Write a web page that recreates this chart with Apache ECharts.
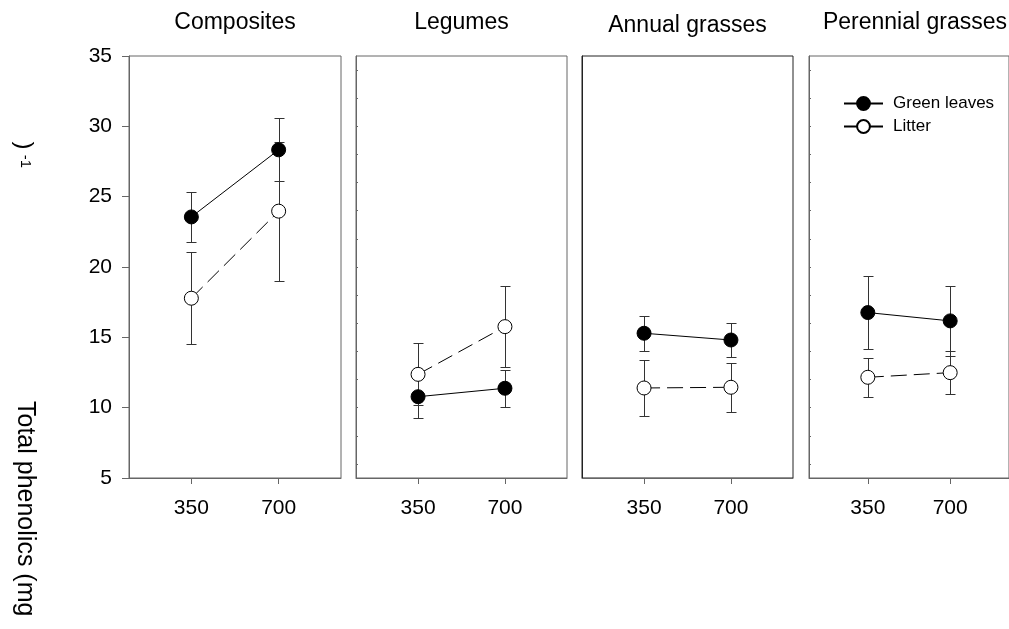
<!DOCTYPE html>
<html>
<head>
<meta charset="utf-8">
<script src="https://cdn.jsdelivr.net/npm/echarts@6/dist/echarts.min.js"></script>
<style>
html,body{margin:0;padding:0;background:#fff;}
#chart{width:1009px;height:629px;}
</style>
</head>
<body>
<div id="chart"></div>
<script>
// ---- data ----
const co2Levels = [350, 700];
const panelTitles = ['Composites', 'Legumes', 'Annual grasses', 'Perennial grasses'];
const greenMean   = [[23.56, 28.33], [10.78, 11.38], [15.29, 14.81], [16.76, 16.17]];
const greenErr    = [[1.78, 2.25],   [1.49, 1.33],   [1.25, 1.20],   [2.57, 2.50]];
const litterMean  = [[17.78, 23.97], [12.37, 15.76], [11.40, 11.45], [12.16, 12.49]];
const litterErr   = [[3.27, 4.94],   [2.20, 2.87],   [2.00, 1.75],   [1.38, 1.52]];
const yTickValues = [5, 10, 15, 20, 25, 30, 35];
const innerTickValues = [6, 8, 10, 12, 14, 16, 18, 20, 22, 24, 26, 28, 30, 32, 34];
const seriesNames = ['Green leaves', 'Litter'];

// ---- layout ----
const FONT = 'Liberation Sans, Arial, sans-serif';
const grids = [
  {left: 129, top: 56, width: 212, height: 422},
  {left: 356, top: 56, width: 211, height: 422},
  {left: 582, top: 56, width: 211, height: 422},
  {left: 809, top: 56, width: 212, height: 422}
];
const titleY = [23, 23, 26, 22.5];
const borderCols = ['#666', '#666', '#222', '#666'];

function errRender(params, api) {
  const x = api.value(0), lo = api.value(1), hi = api.value(2);
  const t = api.coord([x, hi]), b = api.coord([x, lo]);
  const cx = Math.round(t[0]) + 0.5;
  const ty = Math.round(t[1]) + 0.5, by = Math.round(b[1]) + 0.5;
  const w = 5;
  const style = {stroke: '#333', lineWidth: 1, fill: null};
  return {type: 'group', children: [
    {type: 'line', shape: {x1: cx, y1: ty, x2: cx, y2: by}, style: style},
    {type: 'line', shape: {x1: cx - w, y1: ty, x2: cx + w, y2: ty}, style: style},
    {type: 'line', shape: {x1: cx - w, y1: by, x2: cx + w, y2: by}, style: style}
  ]};
}

const xAxes = [], yAxes = [], series = [], graphics = [];
grids.forEach((g, i) => {
  xAxes.push({
    type: 'value', gridIndex: i, min: 100, max: 950,
    axisLine: {show: true, lineStyle: {color: '#666', width: 1}},
    axisTick: {show: true, length: 6, customValues: co2Levels, lineStyle: {color: '#666'}},
    axisLabel: {show: true, customValues: co2Levels, margin: 20, fontSize: 21, color: '#000', fontFamily: FONT},
    splitLine: {show: false}
  });
  if (i === 0) {
    yAxes.push({
      type: 'value', gridIndex: i, min: 5, max: 35, interval: 5,
      axisLine: {show: true, lineStyle: {color: '#666', width: 1}},
      axisTick: {show: true, length: 7, customValues: yTickValues, lineStyle: {color: '#666'}},
      axisLabel: {show: true, customValues: yTickValues, margin: 17, fontSize: 21, color: '#000', fontFamily: FONT},
      splitLine: {show: false}
    });
  } else {
    yAxes.push({
      type: 'value', gridIndex: i, min: 5, max: 35, interval: 5,
      axisLine: {show: true, lineStyle: {color: borderCols[i], width: 1}},
      axisTick: {show: i !== 2, inside: true, length: 2, customValues: innerTickValues, lineStyle: {color: '#666'}},
      axisLabel: {show: false},
      splitLine: {show: false}
    });
  }
  const errData = [];
  co2Levels.forEach((x, k) => {
    errData.push([x, greenMean[i][k] - greenErr[i][k], greenMean[i][k] + greenErr[i][k]]);
    errData.push([x, litterMean[i][k] - litterErr[i][k], litterMean[i][k] + litterErr[i][k]]);
  });
  series.push({
    type: 'custom', xAxisIndex: i, yAxisIndex: i, renderItem: errRender,
    encode: {x: 0, y: [1, 2]}, data: errData, z: 1, silent: true
  });
  series.push({
    name: seriesNames[0], type: 'line', xAxisIndex: i, yAxisIndex: i, z: 3,
    data: co2Levels.map((x, k) => [x, greenMean[i][k]]),
    symbol: 'circle', symbolSize: 14,
    itemStyle: {color: '#000', borderColor: '#000', borderWidth: 1},
    lineStyle: {color: '#000', width: 1, type: 'solid'},
    animation: false
  });
  series.push({
    name: seriesNames[1], type: 'line', xAxisIndex: i, yAxisIndex: i, z: 2,
    data: co2Levels.map((x, k) => [x, litterMean[i][k]]),
    symbol: 'circle', symbolSize: 14,
    itemStyle: {color: '#fff', borderColor: '#000', borderWidth: 1},
    lineStyle: {color: '#000', width: 1, type: [16, 7]},
    animation: false
  });
  graphics.push({
    type: 'text', x: g.left + g.width / 2, y: titleY[i],
    style: {text: panelTitles[i], fontSize: 23, fontFamily: FONT, fill: '#000', textAlign: 'center', verticalAlign: 'middle'}
  });
});

graphics.push({
  type: 'text', x: 25, y: 401, rotation: -Math.PI / 2,
  style: {text: 'Total phenolics (mg', fontSize: 25, fontFamily: FONT, fill: '#000', textAlign: 'left', verticalAlign: 'middle'}
});
graphics.push({
  type: 'text', x: 24, y: 145.5, rotation: -Math.PI / 2,
  style: {text: ')', fontSize: 24, fontFamily: FONT, fill: '#000', textAlign: 'center', verticalAlign: 'middle'}
});
graphics.push({
  type: 'text', x: 25, y: 161.5, rotation: -Math.PI / 2,
  style: {text: '-1', fontSize: 15, fontFamily: FONT, fill: '#000', textAlign: 'center', verticalAlign: 'middle'}
});

const option = {
  animation: false,
  backgroundColor: '#fff',
  grid: grids.map((g, i) => Object.assign({show: true, borderColor: borderCols[i], borderWidth: 1, backgroundColor: 'transparent'}, g)),
  xAxis: xAxes,
  yAxis: yAxes,
  legend: {
    data: seriesNames, orient: 'vertical', left: 838, top: 90,
    itemWidth: 39, itemHeight: 16, itemGap: 6,
    textStyle: {fontSize: 17, fontFamily: FONT, color: '#000', padding: [0, 0, 0, 5]},
    selectedMode: false
  },
  series: series,
  graphic: graphics
};

const chart = echarts.init(document.getElementById('chart'), null, {renderer: 'canvas'});
chart.setOption(option);
</script>
</body>
</html>
